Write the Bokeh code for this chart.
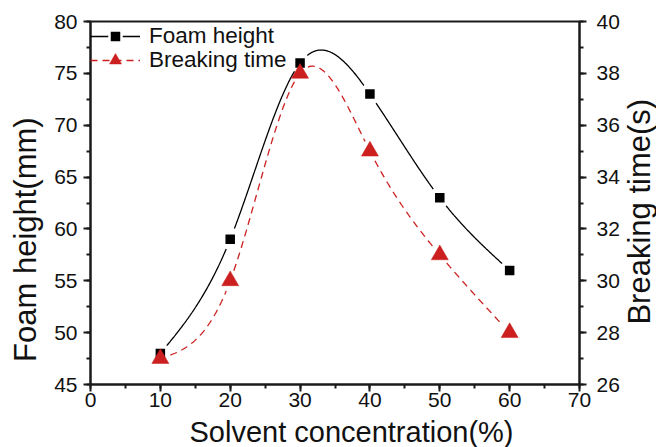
import math
import numpy as np
from bokeh.plotting import figure
from bokeh.layouts import row, column
from bokeh.models import (Range1d, LinearAxis, SingleIntervalTicker, Legend, LegendItem, Label)
from bokeh.embed import file_html
from bokeh.resources import INLINE

# ---- data ----
concentration = [10, 20, 30, 40, 50, 60]
foam_height = [48, 59, 76, 73, 63, 56]
breaking_time = [27, 30, 38, 35, 31, 28]

X_TITLE = "Solvent concentration(%)"
YL_TITLE = "Foam height(mm)"
YR_TITLE = "Breaking time(s)"

FONT = "Liberation Sans"
BLACK = "#000000"
RED = "#cc1f1f"
AXC = "#1a1a1a"
TXT = "#111111"

X_RANGE = (0, 70)
Y_LEFT = (45, 80)
Y_RIGHT = (26, 40)

# page layout (pixels)
W, H = 656, 447
LEFT_W, RIGHT_W, BOTTOM_H = 46, 34, 31
PW, PH = W - LEFT_W - RIGHT_W, H - BOTTOM_H
ML, MR, MT, MB = 44, 42, 21, 32
FRAME_W, FRAME_H = PW - ML - MR, PH - MT - MB


def natural_spline(x, y, n=600):
    x = np.asarray(x, float)
    y = np.asarray(y, float)
    m = len(x)
    h = np.diff(x)
    A = np.zeros((m, m))
    b = np.zeros(m)
    A[0, 0] = 1
    A[-1, -1] = 1
    for i in range(1, m - 1):
        A[i, i - 1] = h[i - 1]
        A[i, i] = 2 * (h[i - 1] + h[i])
        A[i, i + 1] = h[i]
        b[i] = 3 * ((y[i + 1] - y[i]) / h[i] - (y[i] - y[i - 1]) / h[i - 1])
    c = np.linalg.solve(A, b)
    xs = np.linspace(x[0], x[-1], n)
    ys = np.empty_like(xs)
    for k, xv in enumerate(xs):
        i = min(np.searchsorted(x, xv, side="right") - 1, m - 2)
        dx = xv - x[i]
        bi = (y[i + 1] - y[i]) / h[i] - h[i] * (2 * c[i] + c[i + 1]) / 3
        di = (c[i + 1] - c[i]) / (3 * h[i])
        ys[k] = y[i] + bi * dx + c[i] * dx ** 2 + di * dx ** 3
    return xs, ys


def gapped(xs, ys, px, py, yspan, gap=10.0):
    # break the curve near the markers (Origin-style line gaps)
    sx = FRAME_W / (X_RANGE[1] - X_RANGE[0])
    sy = FRAME_H / yspan
    out = ys.copy()
    for a, b in zip(px, py):
        d = np.hypot((xs - a) * sx, (ys - b) * sy)
        out[d < gap] = np.nan
    return xs, out


p = figure(width=PW, height=PH,
           x_range=Range1d(*X_RANGE), y_range=Range1d(*Y_LEFT),
           output_backend="svg", toolbar_location=None,
           min_border_left=ML, min_border_right=MR, min_border_top=MT, min_border_bottom=MB)
p.extra_y_ranges = {"right": Range1d(*Y_RIGHT)}
p.background_fill_color = "white"
p.border_fill_color = "white"
p.grid.visible = False
p.outline_line_color = AXC
p.outline_line_width = 2

fx, fy = natural_spline(concentration, foam_height)
fx, fy = gapped(fx, fy, concentration, foam_height, Y_LEFT[1] - Y_LEFT[0])
bx, by = natural_spline(concentration, breaking_time)
bx, by = gapped(bx, by, concentration, breaking_time, Y_RIGHT[1] - Y_RIGHT[0])

l1 = p.line(fx, fy, line_color=BLACK, line_width=1.3)
l2 = p.line(bx, by, line_color=RED, line_width=1.3, line_dash="7 5", y_range_name="right")
s1 = p.scatter(concentration, foam_height, marker="square", size=12,
               fill_color=BLACK, line_color="white", line_width=2.5)
s2 = p.scatter(concentration, breaking_time, marker="triangle", size=17,
               fill_color=RED, line_color=RED, line_width=0.5,
               y_range_name="right")


def style_axis(ax):
    ax.axis_line_width = 2
    ax.axis_line_color = AXC
    ax.major_tick_line_width = 2
    ax.minor_tick_line_width = 2
    ax.major_tick_line_color = AXC
    ax.minor_tick_line_color = AXC
    ax.major_tick_in = 0
    ax.major_tick_out = 7
    ax.minor_tick_in = 0
    ax.minor_tick_out = 4
    ax.major_label_text_font = FONT
    ax.major_label_text_font_size = "21px"
    ax.major_label_text_color = TXT


xax = p.xaxis[0]
xax.ticker = SingleIntervalTicker(interval=10, num_minor_ticks=2)
style_axis(xax)
xax.major_label_standoff = 1

yax = p.yaxis[0]
yax.ticker = SingleIntervalTicker(interval=5, num_minor_ticks=2)
style_axis(yax)
yax.major_label_standoff = 6

rax = LinearAxis(y_range_name="right",
                 ticker=SingleIntervalTicker(interval=2, num_minor_ticks=2))
style_axis(rax)
rax.major_label_standoff = 10
p.add_layout(rax, "right")

# legend: one box per row so the row pitch can match the reference
leg_kw = dict(border_line_color=None, background_fill_alpha=0, label_text_font=FONT,
              label_text_font_size="22.5px", label_text_color=TXT, glyph_width=50,
              glyph_height=30, label_height=23, label_standoff=9, padding=5, margin=0)
leg1 = Legend(items=[LegendItem(label="Foam height", renderers=[l1, s1])],
              location="top_left", **leg_kw)
leg2 = Legend(items=[LegendItem(label="Breaking time", renderers=[l2, s2])],
              location=(0, 309), **leg_kw)
p.add_layout(leg1)
p.add_layout(leg2)


def title_panel(w, h):
    q = figure(width=w, height=h, x_range=Range1d(0, w), y_range=Range1d(0, h),
               x_axis_type=None, y_axis_type=None, output_backend="svg",
               toolbar_location=None, min_border=0)
    q.outline_line_color = None
    q.background_fill_color = "white"
    q.border_fill_color = "white"
    return q


title_kw = dict(text_font=FONT, text_color=TXT, text_baseline="middle", text_align="center")

qL = title_panel(LEFT_W, PH)
qL.add_layout(Label(x=25, y=PH - 250, text=YL_TITLE, angle=math.pi / 2,
                    text_font_size="31px", **title_kw))

qR = title_panel(RIGHT_W, PH)
qR.add_layout(Label(x=17, y=PH - 218, text=YR_TITLE, angle=math.pi / 2,
                    text_font_size="31px", **title_kw))

qB = title_panel(W, BOTTOM_H)
qB.add_layout(Label(x=351, y=16, text=X_TITLE, text_font_size="29px", **title_kw))

layout = column(row(qL, p, qR, spacing=0), qB, spacing=0)

open("out.html", "w").write(file_html(layout, INLINE))
